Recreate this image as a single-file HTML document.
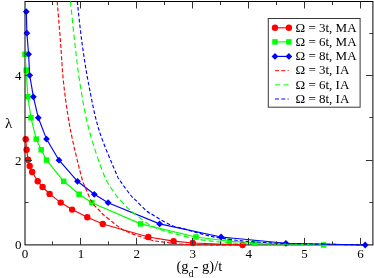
<!DOCTYPE html>
<html><head><meta charset="utf-8"><title>plot</title>
<style>html,body{margin:0;padding:0;background:#fff;overflow:hidden}body{width:374px;height:278px;position:relative;font-family:"Liberation Serif",serif}</style></head>
<body>
<svg width="374" height="278" viewBox="0 0 374 278" style="position:absolute;left:0;top:0;will-change:transform">
<rect x="0" y="0" width="374" height="278" fill="#fff"/>
<defs><clipPath id="c"><rect x="25.0" y="1.0" width="353.9" height="249.4"/></clipPath></defs>
<rect x="25.0" y="1.5" width="347.9" height="243.4" fill="none" stroke="#000" stroke-width="1"/>
<path d="M25.7,139.2 L26.6,149.8 L28.1,159.8 L29.7,166.0 L32.2,172.0 L37.7,181.2 L42.6,187.0 L49.6,193.9 L60.7,202.6 L72.1,209.6 L87.3,217.3 L102.8,224.0 L148.3,237.0 L173.6,241.1 L192.8,243.0 L242.6,245.0" fill="none" stroke="#f00" stroke-width="1.15"/><circle cx="25.7" cy="139.2" r="3.2" fill="#f00"/><circle cx="26.6" cy="149.8" r="3.2" fill="#f00"/><circle cx="28.1" cy="159.8" r="3.2" fill="#f00"/><circle cx="29.7" cy="166" r="3.2" fill="#f00"/><circle cx="32.2" cy="172" r="3.2" fill="#f00"/><circle cx="37.7" cy="181.2" r="3.2" fill="#f00"/><circle cx="42.6" cy="187" r="3.2" fill="#f00"/><circle cx="49.6" cy="193.9" r="3.2" fill="#f00"/><circle cx="60.7" cy="202.6" r="3.2" fill="#f00"/><circle cx="72.1" cy="209.6" r="3.2" fill="#f00"/><circle cx="87.3" cy="217.3" r="3.2" fill="#f00"/><circle cx="102.8" cy="224" r="3.2" fill="#f00"/><circle cx="148.3" cy="237.0" r="3.2" fill="#f00"/><circle cx="173.6" cy="241.1" r="3.2" fill="#f00"/><circle cx="192.8" cy="243.0" r="3.2" fill="#f00"/><circle cx="242.6" cy="245" r="3.2" fill="#f00"/>
<path d="M25.0,54.2 L26.2,70.2 L27.8,96.8 L31.0,117.8 L36.2,139.1 L41.2,149.8 L46.5,160.1 L63.7,181.3 L79.1,194.3 L91.9,202.7 L140.6,223.9 L196.0,237.0 L229.4,241.2 L254.8,242.8 L323.6,245.0" fill="none" stroke="#0f0" stroke-width="1.15"/><rect x="22.25" y="51.45" width="5.5" height="5.5" fill="#0f0"/><rect x="23.45" y="67.45" width="5.5" height="5.5" fill="#0f0"/><rect x="25.05" y="94.05" width="5.5" height="5.5" fill="#0f0"/><rect x="28.25" y="115.05" width="5.5" height="5.5" fill="#0f0"/><rect x="33.45" y="136.35" width="5.5" height="5.5" fill="#0f0"/><rect x="38.45" y="147.05" width="5.5" height="5.5" fill="#0f0"/><rect x="43.75" y="157.35" width="5.5" height="5.5" fill="#0f0"/><rect x="60.95" y="178.55" width="5.5" height="5.5" fill="#0f0"/><rect x="76.35" y="191.55" width="5.5" height="5.5" fill="#0f0"/><rect x="89.15" y="199.95" width="5.5" height="5.5" fill="#0f0"/><rect x="137.85" y="221.15" width="5.5" height="5.5" fill="#0f0"/><rect x="193.25" y="234.25" width="5.5" height="5.5" fill="#0f0"/><rect x="226.65" y="238.45" width="5.5" height="5.5" fill="#0f0"/><rect x="252.05" y="240.05" width="5.5" height="5.5" fill="#0f0"/><rect x="320.85" y="242.25" width="5.5" height="5.5" fill="#0f0"/>
<path d="M26.3,11.7 L26.9,33.2 L28.6,54.2 L29.7,75.3 L33.4,96.8 L38.3,117.8 L46.5,139.1 L59.0,160.2 L77.5,181.3 L94.3,194.3 L108.1,202.7 L159.6,223.9 L221.1,237.0 L285.9,243.3 L365.2,245.0" fill="none" stroke="#00f" stroke-width="1.15"/><path d="M22.90,11.7 L26.3,8.30 L29.70,11.7 L26.3,15.10Z" fill="#00f"/><path d="M23.50,33.2 L26.9,29.80 L30.30,33.2 L26.9,36.60Z" fill="#00f"/><path d="M25.20,54.2 L28.6,50.80 L32.00,54.2 L28.6,57.60Z" fill="#00f"/><path d="M26.30,75.3 L29.7,71.90 L33.10,75.3 L29.7,78.70Z" fill="#00f"/><path d="M30.00,96.8 L33.4,93.40 L36.80,96.8 L33.4,100.20Z" fill="#00f"/><path d="M34.90,117.8 L38.3,114.40 L41.70,117.8 L38.3,121.20Z" fill="#00f"/><path d="M43.10,139.1 L46.5,135.70 L49.90,139.1 L46.5,142.50Z" fill="#00f"/><path d="M55.60,160.2 L59,156.80 L62.40,160.2 L59,163.60Z" fill="#00f"/><path d="M74.10,181.3 L77.5,177.90 L80.90,181.3 L77.5,184.70Z" fill="#00f"/><path d="M90.90,194.3 L94.3,190.90 L97.70,194.3 L94.3,197.70Z" fill="#00f"/><path d="M104.70,202.7 L108.1,199.30 L111.50,202.7 L108.1,206.10Z" fill="#00f"/><path d="M156.20,223.9 L159.6,220.50 L163.00,223.9 L159.6,227.30Z" fill="#00f"/><path d="M217.70,237.0 L221.1,233.60 L224.50,237.0 L221.1,240.40Z" fill="#00f"/><path d="M282.50,243.3 L285.9,239.90 L289.30,243.3 L285.9,246.70Z" fill="#00f"/><path d="M361.80,245 L365.2,241.60 L368.60,245 L365.2,248.40Z" fill="#00f"/>
<g fill="none" stroke-width="1.15" clip-path="url(#c)">
<path d="M57.20,1.50 C57.75,8.25 59.40,28.08 60.50,42.00 C61.60,55.92 62.13,70.33 63.80,85.00 C65.47,99.67 67.63,115.00 70.50,130.00 C73.37,145.00 78.42,165.17 81.00,175.00 C83.58,184.83 84.12,184.42 86.00,189.00 C87.88,193.58 89.97,198.83 92.30,202.50 C94.63,206.17 98.10,208.92 100.00,211.00 C101.90,213.08 101.47,213.05 103.70,215.00 C105.93,216.95 110.68,220.57 113.40,222.70 C116.12,224.83 117.23,226.08 120.00,227.80 C122.77,229.52 124.72,230.93 130.00,233.00 C135.28,235.07 146.30,238.72 151.70,240.20 C157.10,241.68 157.68,241.27 162.40,241.90 C167.12,242.53 173.73,243.53 180.00,244.00 C186.27,244.47 189.50,244.53 200.00,244.70 C210.50,244.87 235.83,244.95 243.00,245.00" stroke="#f00" stroke-dasharray="4 2.1"/>
<path d="M70.50,1.50 C71.20,8.25 73.08,28.08 74.70,42.00 C76.32,55.92 77.80,70.33 80.20,85.00 C82.60,99.67 85.13,115.00 89.10,130.00 C93.07,145.00 99.52,164.17 104.00,175.00 C108.48,185.83 113.07,190.57 116.00,195.00 C118.93,199.43 119.77,199.52 121.60,201.60 C123.43,203.68 125.03,205.60 127.00,207.50 C128.97,209.40 129.57,210.08 133.40,213.00 C137.23,215.92 145.17,222.12 150.00,225.00 C154.83,227.88 159.02,229.05 162.40,230.30 C165.78,231.55 167.20,231.67 170.30,232.50 C173.40,233.33 177.78,234.47 181.00,235.30 C184.22,236.13 185.85,236.70 189.60,237.50 C193.35,238.30 199.27,239.43 203.50,240.10 C207.73,240.77 210.92,241.05 215.00,241.50 C219.08,241.95 223.00,242.47 228.00,242.80 C233.00,243.13 238.00,243.30 245.00,243.50 C252.00,243.70 260.83,243.85 270.00,244.00 C279.17,244.15 291.17,244.23 300.00,244.40 C308.83,244.57 319.17,244.90 323.00,245.00" stroke="#0f0" stroke-dasharray="5.3 3"/>
<path d="M77.30,1.50 C78.07,8.25 79.98,28.08 81.90,42.00 C83.82,55.92 85.95,70.33 88.80,85.00 C91.65,99.67 94.47,115.33 99.00,130.00 C103.53,144.67 112.50,164.58 116.00,173.00 C119.50,181.42 117.58,176.83 120.00,180.50 C122.42,184.17 127.80,191.63 130.50,195.00 C133.20,198.37 133.45,197.98 136.20,200.70 C138.95,203.42 144.17,208.92 147.00,211.30 C149.83,213.68 150.63,213.43 153.20,215.00 C155.77,216.57 159.10,218.87 162.40,220.70 C165.70,222.53 169.73,224.73 173.00,226.00 C176.27,227.27 179.17,227.53 182.00,228.30 C184.83,229.07 187.50,229.88 190.00,230.60 C192.50,231.32 194.50,231.90 197.00,232.60 C199.50,233.30 202.05,234.05 205.00,234.80 C207.95,235.55 209.20,236.15 214.70,237.10 C220.20,238.05 230.45,239.65 238.00,240.50 C245.55,241.35 252.00,241.70 260.00,242.20 C268.00,242.70 274.33,243.15 286.00,243.50 C297.67,243.85 316.83,244.05 330.00,244.30 C343.17,244.55 359.17,244.88 365.00,245.00" stroke="#00f" stroke-dasharray="3.6 2.2"/>
</g>
<g stroke="#000" stroke-width="1" fill="none">
<clipPath id="m"><circle cx="25.7" cy="139.2" r="3.2"/><circle cx="26.6" cy="149.8" r="3.2"/><circle cx="28.1" cy="159.8" r="3.2"/><circle cx="29.7" cy="166" r="3.2"/><rect x="22.25" y="51.45" width="5.5" height="5.5"/><rect x="23.45" y="67.45" width="5.5" height="5.5"/><rect x="25.05" y="94.05" width="5.5" height="5.5"/><path d="M22.90,11.7 L26.3,8.30 L29.70,11.7 L26.3,15.10Z"/><path d="M23.50,33.2 L26.9,29.80 L30.30,33.2 L26.9,36.60Z"/><path d="M25.20,54.2 L28.6,50.80 L32.00,54.2 L28.6,57.60Z"/><path d="M26.30,75.3 L29.7,71.90 L33.10,75.3 L29.7,78.70Z"/></clipPath>
<path d="M25.0,1.5 V244.9" stroke-opacity="0.7" clip-path="url(#m)"/>
<path d="M52.5,244.9 v-3.5 M52.5,1.5 v3.5 M80.5,244.9 v-7 M80.5,1.5 v7 M108.5,244.9 v-3.5 M108.5,1.5 v3.5 M136.5,244.9 v-7 M136.5,1.5 v7 M164.5,244.9 v-3.5 M164.5,1.5 v3.5 M192.5,244.9 v-7 M192.5,1.5 v7 M220.5,244.9 v-3.5 M220.5,1.5 v3.5 M248.5,244.9 v-7 M248.5,1.5 v7 M276.5,244.9 v-3.5 M276.5,1.5 v3.5 M304.5,244.9 v-7 M304.5,1.5 v7 M332.5,244.9 v-3.5 M332.5,1.5 v3.5 M360.5,244.9 v-7 M360.5,1.5 v7 M25.0,202.5 h3.5 M372.9,202.5 h-3.5 M25.0,160.5 h7 M372.9,160.5 h-7 M25.0,117.5 h3.5 M372.9,117.5 h-3.5 M25.0,75.5 h7 M372.9,75.5 h-7 M25.0,33.5 h3.5 M372.9,33.5 h-3.5" stroke="#333"/>
</g>
<rect x="268.3" y="18.5" width="91.80000000000001" height="88.7" fill="#fff" stroke="#383838" stroke-width="1"/>
<path d="M275.0,27.8 L288.9,27.8" fill="none" stroke="#f00" stroke-width="1.15"/><circle cx="275.0" cy="27.8" r="3.2" fill="#f00"/><circle cx="288.9" cy="27.8" r="3.2" fill="#f00"/>
<path d="M275.0,41.9 L288.9,41.9" fill="none" stroke="#0f0" stroke-width="1.15"/><rect x="272.25" y="39.15" width="5.5" height="5.5" fill="#0f0"/><rect x="286.15" y="39.15" width="5.5" height="5.5" fill="#0f0"/>
<path d="M275.0,56.4 L288.9,56.4" fill="none" stroke="#00f" stroke-width="1.15"/><path d="M271.60,56.4 L275.0,53.00 L278.40,56.4 L275.0,59.80Z" fill="#00f"/><path d="M285.50,56.4 L288.9,53.00 L292.30,56.4 L288.9,59.80Z" fill="#00f"/>
<g fill="none" stroke-width="1.0">
<path d="M275.0,70.7 H288.7" stroke="#f00" stroke-dasharray="4 2.3"/>
<path d="M275.0,84.9 H288.7" stroke="#0f0" stroke-dasharray="5.2 3.3"/>
<path d="M275.0,99.0 H288.7" stroke="#00f" stroke-dasharray="4 2.3"/>
</g>
<g font-family="Liberation Serif, serif" font-size="13px" fill="#000">
<text x="295.5" y="31.5">Ω = 3t, MA</text>
<text x="295.5" y="45.6">Ω = 6t, MA</text>
<text x="295.5" y="60.1">Ω = 8t, MA</text>
<text x="295.5" y="74.4">Ω = 3t, IA</text>
<text x="295.5" y="88.6">Ω = 6t, IA</text>
<text x="295.5" y="102.7">Ω = 8t, IA</text>
<text x="25.0" y="258" text-anchor="middle">0</text>
<text x="80.9" y="258" text-anchor="middle">1</text>
<text x="136.8" y="258" text-anchor="middle">2</text>
<text x="192.8" y="258" text-anchor="middle">3</text>
<text x="248.7" y="258" text-anchor="middle">4</text>
<text x="304.6" y="258" text-anchor="middle">5</text>
<text x="360.5" y="258" text-anchor="middle">6</text>
<text x="21.5" y="249.4" text-anchor="end">0</text>
<text x="21.5" y="164.6" text-anchor="end">2</text>
<text x="21.5" y="79.8" text-anchor="end">4</text>
</g>
<g font-family="Liberation Serif, serif" fill="#000">
<text x="5" y="128" font-size="15px">λ</text>
<text x="176.5" y="270.5" font-size="14.5px">(g<tspan font-size="10px" dy="6">d</tspan><tspan dy="-6">- g)/t</tspan></text>
</g>
</svg>
</body></html>
